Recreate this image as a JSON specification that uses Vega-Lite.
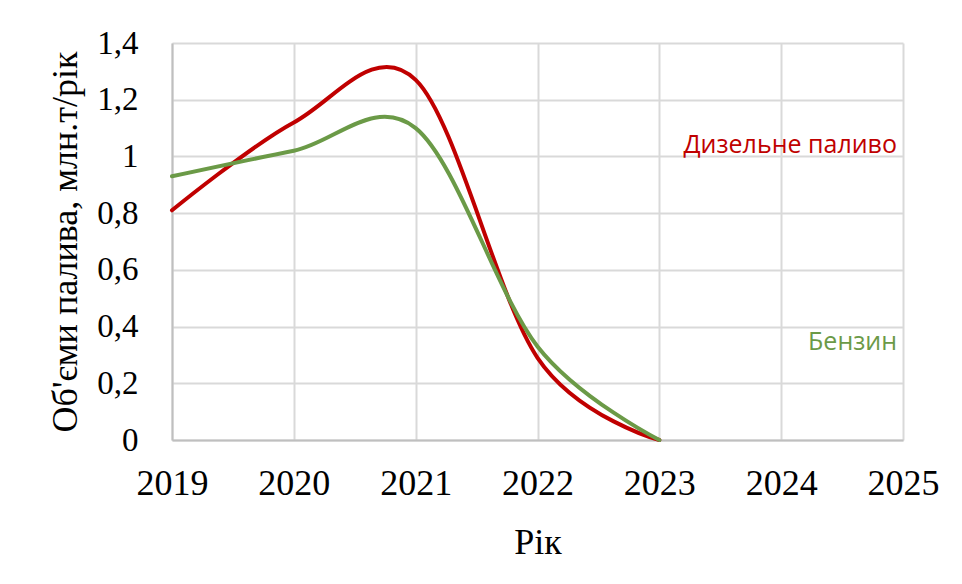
{
  "$schema": "https://vega.github.io/schema/vega-lite/v6.json",
  "width": 731,
  "height": 397,
  "autosize": "none",
  "padding": {"left": 172, "top": 43, "right": 59, "bottom": 144},
  "background": "white",
  "config": {
    "view": {"stroke": null},
    "font": "Liberation Serif"
  },
  "datasets": {
    "series": [
      {"year": 2019, "value": 0.81, "fuel": "Дизельне паливо"},
      {"year": 2020, "value": 1.12, "fuel": "Дизельне паливо"},
      {"year": 2021, "value": 1.27, "fuel": "Дизельне паливо"},
      {"year": 2022, "value": 0.29, "fuel": "Дизельне паливо"},
      {"year": 2023, "value": 0.0, "fuel": "Дизельне паливо"},
      {"year": 2019, "value": 0.93, "fuel": "Бензин"},
      {"year": 2020, "value": 1.02, "fuel": "Бензин"},
      {"year": 2021, "value": 1.10, "fuel": "Бензин"},
      {"year": 2022, "value": 0.33, "fuel": "Бензин"},
      {"year": 2023, "value": 0.0, "fuel": "Бензин"}
    ],
    "labels": [
      {"year": 2025, "value": 1.04, "fuel": "Дизельне паливо"},
      {"year": 2025, "value": 0.345, "fuel": "Бензин"}
    ]
  },
  "layer": [
    {
      "data": {"name": "series"},
      "mark": {"type": "line", "interpolate": "cardinal", "tension": 0, "strokeWidth": 4, "strokeCap": "round"},
      "encoding": {
        "x": {
          "field": "year", "type": "quantitative",
          "scale": {"domain": [2019, 2025], "nice": false, "zero": false},
          "axis": {
            "title": "Рік",
            "values": [2019, 2020, 2021, 2022, 2023, 2024, 2025],
            "format": "d",
            "labelFont": "Liberation Serif", "labelFontSize": 36, "labelColor": "#000000",
            "labelPadding": 26, "labelFlush": false, "labelOverlap": false,
            "titleFont": "Liberation Serif", "titleFontSize": 36, "titleFontWeight": "normal", "titleColor": "#000000",
            "titlePadding": 24,
            "ticks": false,
            "domainColor": "#bfbfbf", "domainWidth": 2,
            "grid": true, "gridColor": "#d9d9d9", "gridWidth": 2
          }
        },
        "y": {
          "field": "value", "type": "quantitative",
          "scale": {"domain": [0, 1.4], "nice": false},
          "axis": {
            "title": "Об'єми  палива, млн.т/рік",
            "values": [0, 0.2, 0.4, 0.6, 0.8, 1.0, 1.2, 1.4],
            "labelExpr": "replace(format(datum.value, '.1~f'), '.', ',')",
            "labelFont": "Liberation Serif", "labelFontSize": 33, "labelColor": "#000000",
            "labelPadding": 34, "labelFlush": false, "labelOverlap": false,
            "titleFont": "Liberation Serif", "titleFontSize": 36, "titleFontWeight": "normal", "titleColor": "#000000",
            "titlePadding": 12,
            "ticks": false,
            "domainColor": "#bfbfbf", "domainWidth": 2,
            "grid": true, "gridColor": "#d9d9d9", "gridWidth": 2
          }
        },
        "color": {
          "field": "fuel", "type": "nominal",
          "scale": {"domain": ["Дизельне паливо", "Бензин"], "range": ["#C00000", "#6B9A47"]},
          "legend": null
        }
      }
    },
    {
      "data": {"name": "labels"},
      "mark": {"type": "text", "align": "right", "baseline": "middle", "dx": -6, "font": "Open Sans", "fontSize": 25},
      "encoding": {
        "x": {"field": "year", "type": "quantitative"},
        "y": {"field": "value", "type": "quantitative"},
        "text": {"field": "fuel"},
        "color": {
          "field": "fuel", "type": "nominal",
          "scale": {"domain": ["Дизельне паливо", "Бензин"], "range": ["#C00000", "#6B9A47"]},
          "legend": null
        }
      }
    }
  ]
}
